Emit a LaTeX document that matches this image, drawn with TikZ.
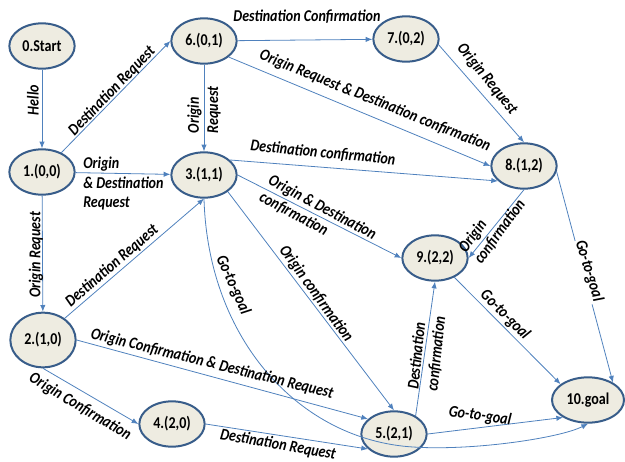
\documentclass[tikz,border=0pt]{standalone}
\usepackage{fontspec}
\setmainfont{Carlito}[FakeStretch=0.85]
\usetikzlibrary{shapes.geometric,arrows.meta}
\definecolor{nfill}{HTML}{EEECE1}
\definecolor{ndraw}{HTML}{385D8A}
\definecolor{ecol}{HTML}{4F81BD}
\begin{document}
\begin{tikzpicture}[x=0.75pt,y=-0.75pt,
  st/.style={ellipse, draw=ndraw, fill=nfill, line width=1.5pt, minimum width=49pt, minimum height=34pt, inner sep=0pt, font=\fontsize{12.4}{14.4}\selectfont\bfseries},
  arr/.style={draw=ecol, line width=0.6pt, -{Latex[length=5pt,width=4pt]}},
  lbl/.style={font=\fontsize{12.4}{14.4}\selectfont\bfseries\itshape, inner sep=1pt, align=left}]
\useasboundingbox (0,0) rectangle (625,461);
% states
\node[st] (n0) at (42,46) {0.Start};
\node[st] (n6) at (204,41) {6.(0,1)};
\node[st] (n7) at (406,39) {7.(0,2)};
\node[st] (n1) at (42,172) {1.(0,0)};
\node[st] (n3) at (204,175) {3.(1,1)};
\node[st] (n8) at (524,166) {8.(1,2)};
\node[st] (n9) at (435,258) {9.(2,2)};
\node[st, minimum height=41pt] (n2) at (43,340) {2.(1,0)};
\node[st] (n4) at (172,424) {4.(2,0)};
\node[st] (n5) at (394,434) {5.(2,1)};
\node[st, minimum width=54pt] (n10) at (588,400) {10.goal};
\coordinate (g1) at (413,447);
% transitions
\draw[arr] (n0) -- (n1);
\draw[arr] (n1.45) -- (n6.west);
\draw[arr] (n1) -- (n3);
\draw[arr] (n1) -- (n2);
\draw[arr] (n6) -- (n7);
\draw[arr] (n6) -- (n3);
\draw[arr] (n6.-33) -- (n8.west);
\draw[arr] (n7.-10) -- (n8.north);
\draw[arr] (n3.30) -- (n8.210);
\draw[arr] (n3.east) -- (n9.west);
\draw[arr] (n8.south) -- (n9.east);
\draw[arr] (n2.45) -- (n3.south);
\draw[arr] (n2.east) -- (n5.150);
\draw[arr] (n2.south) -- (n4.west);
\draw[arr] (n4.east) -- (n5.210);
\draw[arr] (n3.-35) -- (n5.north);
\draw[arr] (n5.40) -- (n9.south);
\draw[arr] (n5.east) -- (n10.215);
\draw[arr] (n9.-45) -- (n10.150);
\draw[arr] (n8.-10) -- (n10.35);
\draw[arr] (n3.south) .. controls (208,340) and (300,440) .. (g1) .. controls (473,451) and (560,438) .. (n10.south);
% labels
\node[lbl, rotate=90] (l01) at (33,100) {Hello};
\node[lbl, rotate=46] (l16) at (112,91) {Destination Request};
\node[lbl, anchor=north west, inner sep=0pt] (l13) at (83,157) {Origin\\\& Destination\\Request};
\node[lbl, rotate=90] (l63) at (204,110) {Origin\\Request};
\node[lbl] (l67) at (307,17) {Destination Confirmation};
\node[lbl, rotate=-22] (l68) at (375,101) {Origin Request \& Destination confirmation};
\node[lbl, rotate=-51] (l78) at (487,79) {Origin Request};
\node[lbl, rotate=-5.5] (l38) at (323,153) {Destination confirmation};
\node[lbl, rotate=-28] (l39) at (318,216) {Origin \& Destination\\confirmation};
\node[lbl, rotate=54] (l89) at (492,226) {Origin\\confirmation};
\node[lbl, rotate=90] (l12) at (36,255) {Origin Request};
\node[lbl, rotate=41] (l23) at (112,266) {Destination Request};
\node[lbl, rotate=-14] (l25) at (212,364) {Origin Confirmation \& Destination Request};
\node[lbl, rotate=-31] (l24) at (80,407) {Origin Confirmation};
\node[lbl, rotate=-10] (l45) at (278,445) {Destination Request};
\node[lbl, rotate=-54] (l35) at (316,294) {Origin confirmation};
\node[lbl, rotate=-66] (l310) at (233,285) {Go-to-goal};
\node[lbl, rotate=84] (l59) at (427,353) {Destination\\confirmation};
\node[lbl, rotate=-8] (l510) at (480,416) {Go-to-goal};
\node[lbl, rotate=-45] (l910) at (505,315) {Go-to-goal};
\node[lbl, rotate=-73, fill=white] (l810) at (589,271) {Go-to-goal};
\end{tikzpicture}
\end{document}
